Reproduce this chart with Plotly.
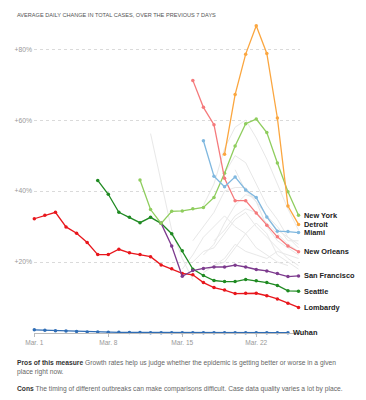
import plotly.graph_objects as go

# ---- data (percent, average daily change over previous 7 days), x = day of March ----
tick_days = [1, 8, 15, 22]
tick_labels = ["Mar. 1", "Mar. 8", "Mar. 15", "Mar. 22"]
y_ticks = [20, 40, 60, 80]
y_tick_labels = ["+20%", "+40%", "+60%", "+80%"]

wuhan_start = 1
wuhan = [0.9, 0.8, 0.65, 0.55, 0.4, 0.3, 0.25, 0.2, 0.2, 0.15, 0.15, 0.1, 0.1,
         0.1, 0.1, 0.1, 0.1, 0.1, 0.1, 0.1, 0.1, 0.1, 0.1, 0.1, 0.1]

lombardy_start = 1
lombardy = [32.2, 33.2, 34.0, 29.9, 28.1, 25.5, 22.1, 22.1, 23.6, 22.6, 22.1, 21.5,
            19.2, 18.1, 16.8, 16.4, 14.2, 12.8, 12.1, 11.1, 11.2, 11.2, 10.5, 9.6, 8.4, 7.2]

seattle_start = 7
seattle = [43.0, 39.1, 34.0, 32.6, 31.1, 32.6, 30.9, 28.0, 23.2, 18.0, 16.2, 14.8,
           14.5, 14.5, 15.1, 14.7, 14.2, 13.4, 11.9, 11.8]

new_york_start = 11
new_york = [43.1, 34.8, 30.9, 34.3, 34.4, 35.0, 35.4, 38.2, 45.0, 52.7, 59.0, 60.3,
            56.5, 47.9, 39.8, 33.2]

san_francisco_start = 13
san_francisco = [30.9, 24.5, 16.0, 17.6, 18.2, 18.6, 18.6, 19.1, 18.6, 17.9, 17.5,
                 16.8, 15.9, 16.1]

new_orleans_start = 16
new_orleans = [71.2, 63.6, 58.7, 43.6, 37.3, 37.3, 33.8, 30.4, 27.1, 24.5, 22.9]

miami_start = 17
miami = [54.2, 44.2, 41.2, 44.0, 40.3, 38.2, 32.7, 28.7, 28.6, 28.3]

detroit_start = 19
detroit = [50.4, 67.2, 78.6, 86.6, 78.8, 60.6, 35.8, 30.6]

# other places, drawn in light gray: (first day, values)
other_places = [
    (12, [56.2, 42.6, 29.0, 21.0, 15.0]),
    (17, [36, 42, 52, 58, 60, 55, 49, 42, 35, 29]),
    (16, [26, 30, 34, 40, 41, 41, 37, 30, 26, 24, 22]),
    (17, [22, 25, 31, 36, 39, 38, 33, 29, 27, 25]),
    (16, [20, 23, 24, 28, 32, 34, 30, 27, 24, 21, 19]),
    (18, [19, 20, 24, 28, 31, 28, 22, 20, 18]),
    (15, [18, 22, 27, 30, 33, 30, 28, 24, 22, 20, 19]),
    (19, [45, 50, 48, 42, 36, 32, 27, 24]),
    (20, [46, 40, 37, 33, 30, 26, 26]),
    (17, [17, 19, 21, 25, 23, 22, 21, 23, 22, 21]),
    (18, [26, 29, 33, 35, 34, 31, 28, 25, 23]),
]

series = [
    ("Wuhan", wuhan_start, wuhan, "#2f6db5"),
    ("Lombardy", lombardy_start, lombardy, "#e8161c"),
    ("Seattle", seattle_start, seattle, "#1f8a22"),
    ("San Francisco", san_francisco_start, san_francisco, "#7d3b8e"),
    ("New York", new_york_start, new_york, "#8fcd5e"),
    ("New Orleans", new_orleans_start, new_orleans, "#f57a7c"),
    ("Miami", miami_start, miami, "#80b8df"),
    ("Detroit", detroit_start, detroit, "#fba63f"),
]

FONT = "Liberation Sans, Arial, sans-serif"

fig = go.Figure()

for start, vals in other_places:
    fig.add_trace(go.Scatter(
        x=list(range(start, start + len(vals))), y=vals, mode="lines",
        line=dict(color="#e8e8e8", width=1), hoverinfo="skip", showlegend=False))

for name, start, vals, color in series:
    xs = list(range(start, start + len(vals)))
    fig.add_trace(go.Scatter(
        x=xs, y=vals, mode="lines+markers", name=name,
        line=dict(color=color, width=1.3),
        marker=dict(color=color, size=3.5),
        cliponaxis=False, showlegend=False))
    fig.add_annotation(
        x=xs[-1], y=vals[-1], text="<b>" + name + "</b>", showarrow=False,
        xanchor="left", yanchor="middle", xshift=3,
        font=dict(family=FONT, size=7.4, color="#222222"))

fig.add_annotation(
    xref="paper", yref="paper", x=-0.071, y=1.0, yshift=-1,
    text="AVERAGE DAILY CHANGE IN TOTAL CASES, OVER THE PREVIOUS 7 DAYS",
    showarrow=False, xanchor="left", yanchor="bottom",
    font=dict(family=FONT, size=5.6, color="#555555"))

body_font = dict(family=FONT, size=6.7, color="#666666")
fig.add_annotation(
    xref="paper", yref="paper", x=-0.071, y=0, yshift=-24,
    text="<b style='color:#333'>Pros of this measure</b> Growth rates help us judge whether the epidemic is getting better or worse in a given<br>place right now.",
    showarrow=False, xanchor="left", yanchor="top", align="left", font=body_font)
fig.add_annotation(
    xref="paper", yref="paper", x=-0.071, y=0, yshift=-50,
    text="<b style='color:#333'>Cons</b> The timing of different outbreaks can make comparisons difficult. Case data quality varies a lot by place.",
    showarrow=False, xanchor="left", yanchor="top", align="left", font=body_font)

fig.update_layout(
    width=366, height=400,
    margin=dict(l=34, r=66, t=19, b=67),
    paper_bgcolor="white", plot_bgcolor="white",
    showlegend=False,
    xaxis=dict(
        range=[0.97, 26.14], tickmode="array", tickvals=tick_days, ticktext=tick_labels,
        showgrid=False, zeroline=False, showline=True, linecolor="#bbbbbb", linewidth=1,
        ticks="outside", ticklen=3, tickcolor="#bbbbbb", automargin=False,
        tickfont=dict(family=FONT, size=6.6, color="#999999"),
    ),
    yaxis=dict(
        range=[0, 88.5], tickmode="array", tickvals=y_ticks, ticktext=y_tick_labels,
        showgrid=True, gridcolor="#dadada", griddash="dot", gridwidth=1,
        zeroline=False, showline=False, ticks="", automargin=False,
        tickfont=dict(family=FONT, size=6.8, color="#999999"),
        ticklabelstandoff=1,
    ),
)

fig.write_html("out.html", config={"displayModeBar": False},
               post_script="document.body.style.margin='0';document.body.style.overflow='hidden';")
